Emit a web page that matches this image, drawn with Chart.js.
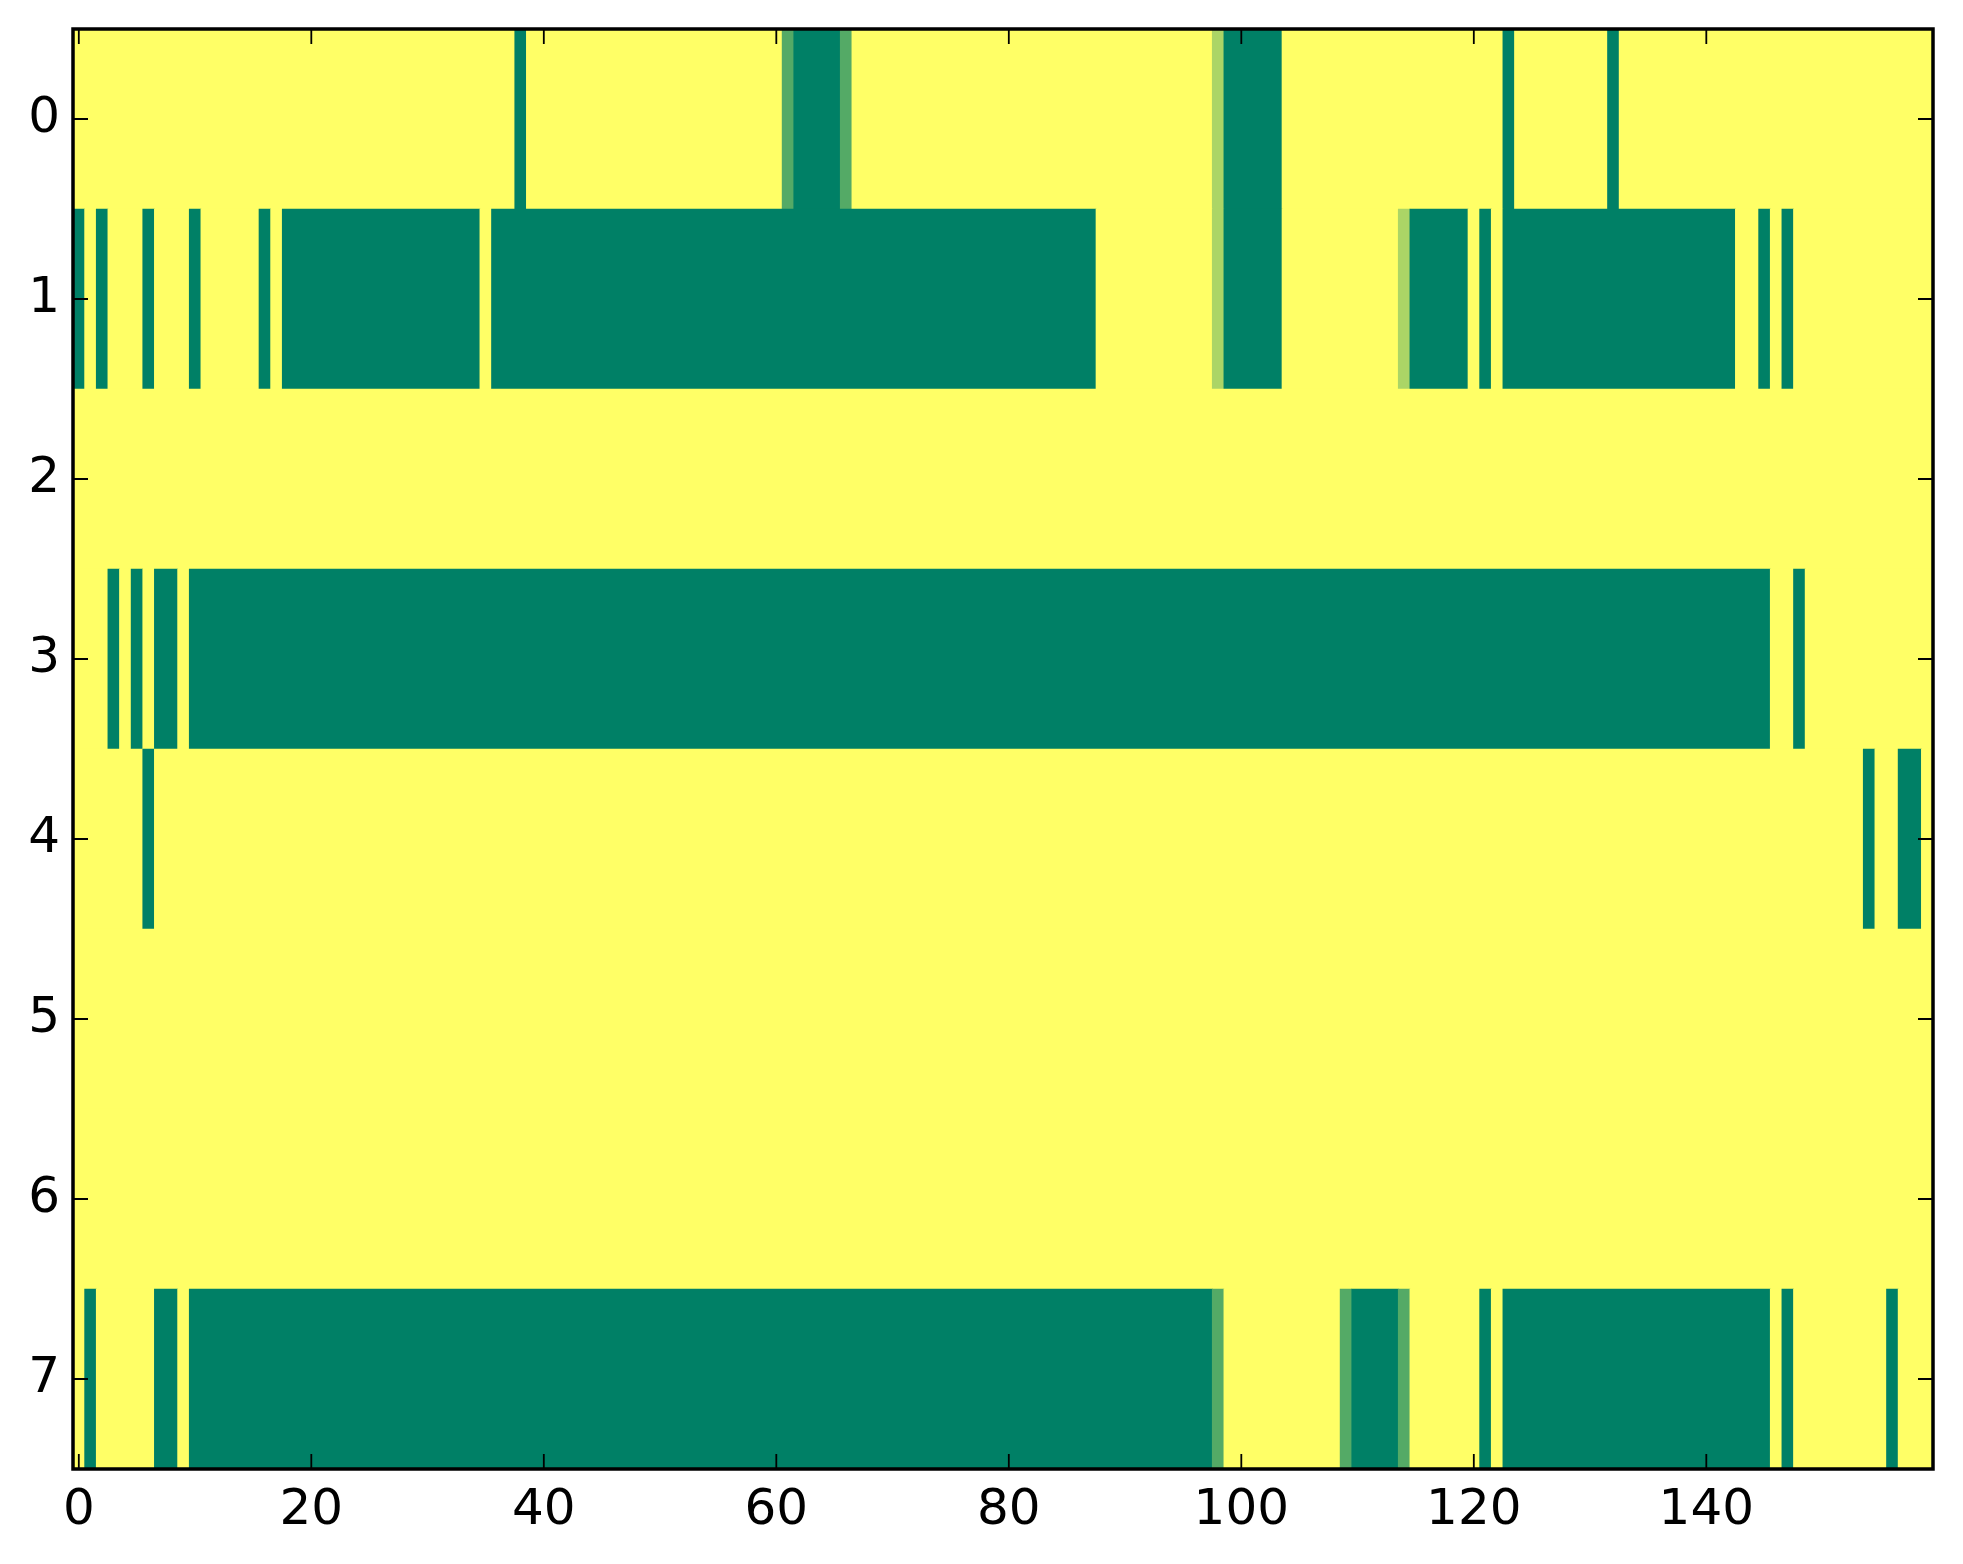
<!DOCTYPE html>
<html>
<head>
<meta charset="utf-8">
<script src="https://cdn.jsdelivr.net/npm/chart.js@4.4.1/dist/chart.umd.min.js"></script>
<style>
  html,body{margin:0;padding:0;background:#fff;}
  canvas{display:block;}
</style>
</head>
<body>
<canvas id="heat" width="1963" height="1564"></canvas>
<script>
// ===== data: 8 rows x 160 columns (1 = yellow, 0 = green) =====
var rowLabels = ['0','1','2','3','4','5','6','7'];
var xTicks = [0,20,40,60,80,100,120,140];

var row0 = [
  1,1,1,1,1,1,1,1,1,1, 1,1,1,1,1,1,1,1,1,1,
  1,1,1,1,1,1,1,1,1,1, 1,1,1,1,1,1,1,1,0,1,
  1,1,1,1,1,1,1,1,1,1, 1,1,1,1,1,1,1,1,1,1,
  1,0.33,0,0,0,0,0.33,1,1,1, 1,1,1,1,1,1,1,1,1,1,
  1,1,1,1,1,1,1,1,1,1, 1,1,1,1,1,1,1,1,0.67,0,
  0,0,0,0,1,1,1,1,1,1, 1,1,1,1,1,1,1,1,1,1,
  1,1,1,0,1,1,1,1,1,1, 1,1,0,1,1,1,1,1,1,1,
  1,1,1,1,1,1,1,1,1,1, 1,1,1,1,1,1,1,1,1,1
];
var row1 = [
  0,1,0,1,1,1,0,1,1,1, 0,1,1,1,1,1,0,1,0,0,
  0,0,0,0,0,0,0,0,0,0, 0,0,0,0,0,1,0,0,0,0,
  0,0,0,0,0,0,0,0,0,0, 0,0,0,0,0,0,0,0,0,0,
  0,0,0,0,0,0,0,0,0,0, 0,0,0,0,0,0,0,0,0,0,
  0,0,0,0,0,0,0,0,1,1, 1,1,1,1,1,1,1,1,0.67,0,
  0,0,0,0,1,1,1,1,1,1, 1,1,1,1,0.67,0,0,0,0,0,
  1,0,1,0,0,0,0,0,0,0, 0,0,0,0,0,0,0,0,0,0,
  0,0,0,1,1,0,1,0,1,1, 1,1,1,1,1,1,1,1,1,1
];
var row2 = [
  1,1,1,1,1,1,1,1,1,1, 1,1,1,1,1,1,1,1,1,1,
  1,1,1,1,1,1,1,1,1,1, 1,1,1,1,1,1,1,1,1,1,
  1,1,1,1,1,1,1,1,1,1, 1,1,1,1,1,1,1,1,1,1,
  1,1,1,1,1,1,1,1,1,1, 1,1,1,1,1,1,1,1,1,1,
  1,1,1,1,1,1,1,1,1,1, 1,1,1,1,1,1,1,1,1,1,
  1,1,1,1,1,1,1,1,1,1, 1,1,1,1,1,1,1,1,1,1,
  1,1,1,1,1,1,1,1,1,1, 1,1,1,1,1,1,1,1,1,1,
  1,1,1,1,1,1,1,1,1,1, 1,1,1,1,1,1,1,1,1,1
];
var row3 = [
  1,1,1,0,1,0,1,0,0,1, 0,0,0,0,0,0,0,0,0,0,
  0,0,0,0,0,0,0,0,0,0, 0,0,0,0,0,0,0,0,0,0,
  0,0,0,0,0,0,0,0,0,0, 0,0,0,0,0,0,0,0,0,0,
  0,0,0,0,0,0,0,0,0,0, 0,0,0,0,0,0,0,0,0,0,
  0,0,0,0,0,0,0,0,0,0, 0,0,0,0,0,0,0,0,0,0,
  0,0,0,0,0,0,0,0,0,0, 0,0,0,0,0,0,0,0,0,0,
  0,0,0,0,0,0,0,0,0,0, 0,0,0,0,0,0,0,0,0,0,
  0,0,0,0,0,0,1,1,0,1, 1,1,1,1,1,1,1,1,1,1
];
var row4 = [
  1,1,1,1,1,1,0,1,1,1, 1,1,1,1,1,1,1,1,1,1,
  1,1,1,1,1,1,1,1,1,1, 1,1,1,1,1,1,1,1,1,1,
  1,1,1,1,1,1,1,1,1,1, 1,1,1,1,1,1,1,1,1,1,
  1,1,1,1,1,1,1,1,1,1, 1,1,1,1,1,1,1,1,1,1,
  1,1,1,1,1,1,1,1,1,1, 1,1,1,1,1,1,1,1,1,1,
  1,1,1,1,1,1,1,1,1,1, 1,1,1,1,1,1,1,1,1,1,
  1,1,1,1,1,1,1,1,1,1, 1,1,1,1,1,1,1,1,1,1,
  1,1,1,1,1,1,1,1,1,1, 1,1,1,1,0,1,1,0,0,1
];
var row5 = [
  1,1,1,1,1,1,1,1,1,1, 1,1,1,1,1,1,1,1,1,1,
  1,1,1,1,1,1,1,1,1,1, 1,1,1,1,1,1,1,1,1,1,
  1,1,1,1,1,1,1,1,1,1, 1,1,1,1,1,1,1,1,1,1,
  1,1,1,1,1,1,1,1,1,1, 1,1,1,1,1,1,1,1,1,1,
  1,1,1,1,1,1,1,1,1,1, 1,1,1,1,1,1,1,1,1,1,
  1,1,1,1,1,1,1,1,1,1, 1,1,1,1,1,1,1,1,1,1,
  1,1,1,1,1,1,1,1,1,1, 1,1,1,1,1,1,1,1,1,1,
  1,1,1,1,1,1,1,1,1,1, 1,1,1,1,1,1,1,1,1,1
];
var row6 = [
  1,1,1,1,1,1,1,1,1,1, 1,1,1,1,1,1,1,1,1,1,
  1,1,1,1,1,1,1,1,1,1, 1,1,1,1,1,1,1,1,1,1,
  1,1,1,1,1,1,1,1,1,1, 1,1,1,1,1,1,1,1,1,1,
  1,1,1,1,1,1,1,1,1,1, 1,1,1,1,1,1,1,1,1,1,
  1,1,1,1,1,1,1,1,1,1, 1,1,1,1,1,1,1,1,1,1,
  1,1,1,1,1,1,1,1,1,1, 1,1,1,1,1,1,1,1,1,1,
  1,1,1,1,1,1,1,1,1,1, 1,1,1,1,1,1,1,1,1,1,
  1,1,1,1,1,1,1,1,1,1, 1,1,1,1,1,1,1,1,1,1
];
var row7 = [
  1,0,1,1,1,1,1,0,0,1, 0,0,0,0,0,0,0,0,0,0,
  0,0,0,0,0,0,0,0,0,0, 0,0,0,0,0,0,0,0,0,0,
  0,0,0,0,0,0,0,0,0,0, 0,0,0,0,0,0,0,0,0,0,
  0,0,0,0,0,0,0,0,0,0, 0,0,0,0,0,0,0,0,0,0,
  0,0,0,0,0,0,0,0,0,0, 0,0,0,0,0,0,0,0,0.33,1,
  1,1,1,1,1,1,1,1,1,0.33, 0,0,0,0,0.33,1,1,1,1,1,
  1,0,1,0,0,0,0,0,0,0, 0,0,0,0,0,0,0,0,0,0,
  0,0,0,0,0,0,1,0,1,1, 1,1,1,1,1,1,0,1,1,1
];
var rows = [row0,row1,row2,row3,row4,row5,row6,row7];

// matplotlib 'summer' colormap
function summer(v){
  return 'rgb('+Math.round(255*v)+','+Math.round(127.5+127.5*v)+',102)';
}

// merge equal neighbours in a row into one floating bar (cell edges at c-0.5 / c+0.5)
var cells = [];
rows.forEach(function(row, r){
  var start = 0;
  for(var c=1;c<=row.length;c++){
    if(c===row.length || row[c]!==row[start]){
      cells.push({y:rowLabels[r], x:[start-0.5, c-0.5], v:row[start]});
      start = c;
    }
  }
});

// inward ticks on all four sides + black frame
var framePlugin = {
  id:'frame',
  afterDraw:function(chart){
    var a = chart.chartArea, ctx = chart.ctx;
    var xs = chart.scales.x, ys = chart.scales.y;
    var len = 15;
    ctx.save();
    ctx.strokeStyle = '#000';
    ctx.lineWidth = 1.8;
    ctx.beginPath();
    xs.ticks.forEach(function(t){
      var px = xs.getPixelForValue(t.value);
      ctx.moveTo(px, a.bottom); ctx.lineTo(px, a.bottom-len);
      ctx.moveTo(px, a.top); ctx.lineTo(px, a.top+len);
    });
    ys.ticks.forEach(function(t, i){
      var py = ys.getPixelForTick(i);
      ctx.moveTo(a.left, py); ctx.lineTo(a.left+len, py);
      ctx.moveTo(a.right, py); ctx.lineTo(a.right-len, py);
    });
    ctx.stroke();
    ctx.lineWidth = 3.5;
    ctx.strokeRect(a.left, a.top, a.right-a.left, a.bottom-a.top);
    ctx.restore();
  }
};

var tickFont = {family:'"DejaVu Sans", sans-serif', size:50};

new Chart(document.getElementById('heat'), {
  type:'bar',
  data:{
    labels:rowLabels,
    datasets:[{
      data:cells,
      backgroundColor:cells.map(function(p){return summer(p.v);}),
      borderWidth:0,
      categoryPercentage:1,
      barPercentage:1
    }]
  },
  options:{
    indexAxis:'y',
    responsive:false,
    animation:false,
    devicePixelRatio:1,
    layout:{padding:{top:29, right:30, left:0, bottom:0}},
    plugins:{legend:{display:false}, tooltip:{enabled:false}},
    scales:{
      x:{
        type:'linear', min:-0.5, max:159.5,
        grid:{display:false}, border:{display:false},
        afterBuildTicks:function(s){ s.ticks = xTicks.map(function(v){return {value:v};}); },
        afterFit:function(s){ s.height = 95; s.paddingLeft = 0; s.paddingRight = 0; },
        ticks:{font:tickFont, color:'#000', padding:4, maxRotation:0, autoSkip:false}
      },
      y:{
        type:'category', offset:true,
        grid:{display:false}, border:{display:false},
        afterFit:function(s){ s.width = 73; s.paddingTop = 0; s.paddingBottom = 0; },
        ticks:{font:tickFont, color:'#000', padding:5}
      }
    }
  },
  plugins:[framePlugin]
});
</script>
</body>
</html>
